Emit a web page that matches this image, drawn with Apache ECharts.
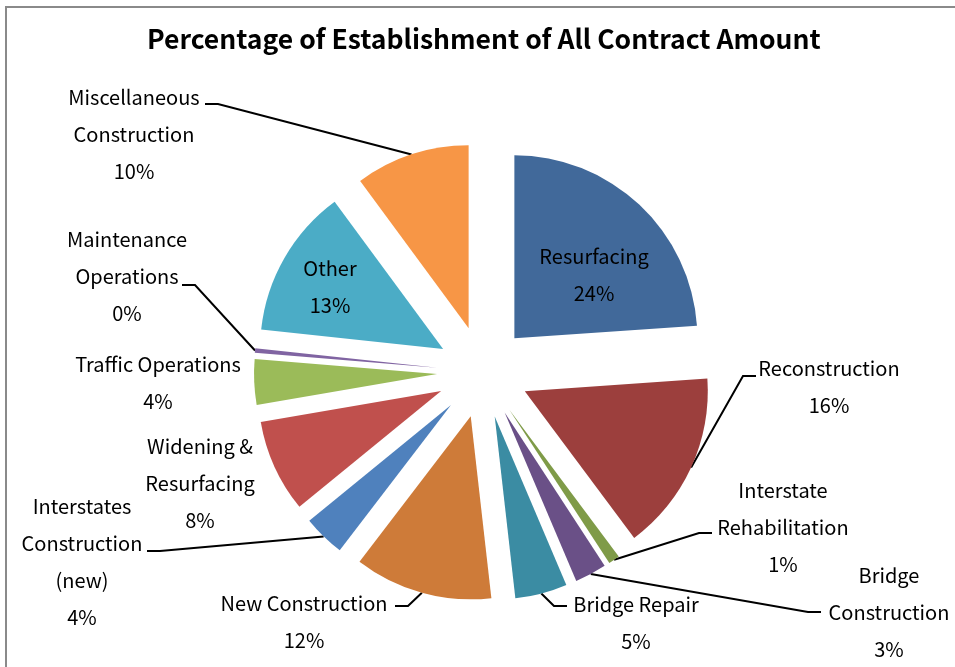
<!DOCTYPE html>
<html>
<head>
<meta charset="utf-8">
<script src="https://cdn.jsdelivr.net/npm/echarts@6/dist/echarts.min.js"></script>
<style>
  html, body { margin: 0; padding: 0; background: #fff; }
  #chart { width: 955px; height: 667px; }
</style>
</head>
<body>
<div id="chart"></div>
<script>
// slices, clockwise from 12 o'clock
const categories = [
  'Resurfacing', 'Reconstruction', 'Interstate Rehabilitation', 'Bridge Construction',
  'Bridge Repair', 'New Construction', 'Interstates Construction (new)', 'Widening & Resurfacing',
  'Traffic Operations', 'Maintenance Operations', 'Other', 'Miscellaneous Construction'
]
const shares = [23.9, 15.9, 1.0, 2.8, 4.6, 12.2, 3.7, 8.2, 4.0, 0.4, 13.2, 10.1]
const labelNames = [
  'Resurfacing', 'Reconstruction', 'Interstate\nRehabilitation', 'Bridge\nConstruction',
  'Bridge Repair', 'New Construction', 'Interstates\nConstruction\n(new)', 'Widening &\nResurfacing',
  'Traffic Operations', 'Maintenance\nOperations', 'Other', 'Miscellaneous\nConstruction'
]
const colors = [
  '#41699A', '#9C3F3D', '#7F9B48', '#6A5087', '#3B8CA3', '#CE7B39',
  '#4F81BD', '#C0504D', '#9BBB59', '#8064A2', '#4BACC6', '#F79646'
]

// layout only: label block centre, and where its leader line meets it (offset from centre)
const labelPos = [
  [594, 275], [829, 387], [783, 527], [889, 612], [636, 623], [304, 622],
  [82, 562], [200, 483], [158, 383], [127, 276], [330, 287], [134, 134]
]
const leaderAttach = [
  null, [-73, -11], [-71, 6], [-68, 0], [-69, -17], [91, -16],
  [65, -11], null, null, [55, 9], null, [71, -30]
]
const insideLabels = ['Resurfacing', 'Other']

const FONT = '"Noto Sans CJK KR", "Noto Sans", sans-serif'
const PIE_CENTER = [483, 372]
const PIE_RADIUS = 183
const EXPLODE = 46

const chart = echarts.init(document.getElementById('chart'))

const total = shares.reduce(function (a, b) { return a + b }, 0)
let before = 0

// one pie per slice so every slice can be pushed out along its own bisector
const series = categories.map(function (name, i) {
  const mid = (before + shares[i] / 2) / total * Math.PI * 2
  before += shares[i]
  const center = [
    PIE_CENTER[0] + EXPLODE * Math.sin(mid),
    PIE_CENTER[1] - EXPLODE * Math.cos(mid)
  ]
  return {
    type: 'pie',
    name: name,
    center: center,
    radius: PIE_RADIUS,
    startAngle: 90,
    clockwise: true,
    silent: true,
    avoidLabelOverlap: false,
    label: {
      show: true,
      position: 'outside',
      fontFamily: FONT,
      fontSize: 20,
      lineHeight: 37,
      color: '#000',
      formatter: function (p) {
        return labelNames[p.dataIndex] + '\n' + Math.round(p.percent) + '%'
      }
    },
    labelLine: {
      show: false,
      lineStyle: { color: '#000', width: 2 }
    },
    labelLayout: function (p) {
      if (p.dataIndex !== i) return {}
      const pos = labelPos[i]
      const res = { x: pos[0], y: pos[1], align: 'center', verticalAlign: 'middle' }
      const att = leaderAttach[i]
      if (att && p.labelLinePoints) {
        const start = p.labelLinePoints[0]
        const end = [pos[0] + att[0], pos[1] + att[1]]
        const turn = [end[0] + (att[0] > 0 ? 13 : -13), end[1]]
        res.labelLinePoints = [start, turn, end]
      }
      return res
    },
    data: categories.map(function (n, j) {
      if (j !== i) {
        return {
          name: n,
          value: shares[j],
          itemStyle: { color: 'rgba(0,0,0,0)' },
          label: { show: false },
          labelLine: { show: false }
        }
      }
      const item = {
        name: n,
        value: shares[j],
        itemStyle: { color: colors[j] },
        labelLine: { show: !!leaderAttach[j] }
      }
      if (insideLabels.indexOf(n) > -1) item.label = { position: 'inside' }
      return item
    })
  }
})

const option = {
  animation: false,
  title: {
    text: 'Percentage of Establishment of All Contract Amount',
    left: 142,
    top: 21,
    textStyle: {
      fontFamily: FONT,
      fontSize: 26.5,
      fontWeight: 'bold',
      color: '#000'
    }
  },
  graphic: [{
    type: 'polyline',
    silent: true,
    z: -10,
    shape: { points: [[6, 700], [6, 7], [960, 7]] },
    style: { fill: 'none', stroke: '#8a8a8a', lineWidth: 2 }
  }],
  series: series
}

chart.setOption(option)
</script>
</body>
</html>
